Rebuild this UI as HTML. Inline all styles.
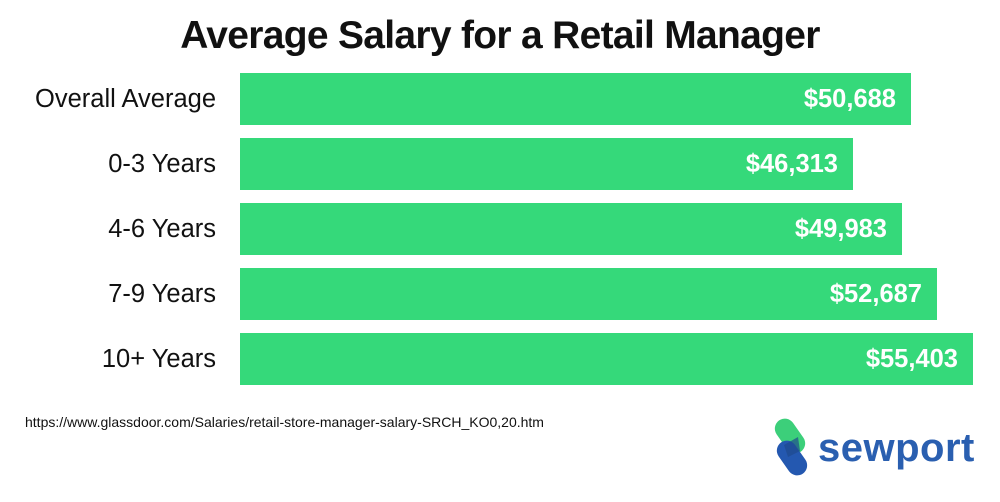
<!DOCTYPE html>
<html><head><style>
body{margin:0;width:1000px;height:502px;background:#fff;position:relative;overflow:hidden;font-family:"Liberation Sans",sans-serif}
.t{position:absolute;left:0;width:1000px;top:14px;text-align:center;font-size:39px;font-weight:bold;color:#111;letter-spacing:-0.7px}
.l{position:absolute;right:784px;font-size:25.5px;color:#111;line-height:52px}
.b{position:absolute;left:240px;height:52px;background:#35d97a}
.v{position:absolute;font-size:25.5px;font-weight:bold;color:#fff;line-height:52px;text-align:right}
.u{position:absolute;left:25px;top:414px;font-size:14px;color:#111}
.s{position:absolute;left:818px;top:426px;font-size:40px;font-weight:bold;color:#2a5fb0;letter-spacing:0.5px}
</style></head><body>
<div class="t">Average Salary for a Retail Manager</div>
<div class="l" style="top:73px">Overall Average</div>
<div class="l" style="top:138px">0-3 Years</div>
<div class="l" style="top:203px">4-6 Years</div>
<div class="l" style="top:268px">7-9 Years</div>
<div class="l" style="top:333px">10+ Years</div>
<div class="b" style="top:73px;width:671px"></div>
<div class="b" style="top:138px;width:613px"></div>
<div class="b" style="top:203px;width:662px"></div>
<div class="b" style="top:268px;width:697px"></div>
<div class="b" style="top:333px;width:733px"></div>
<div class="v" style="top:73px;right:104px">$50,688</div>
<div class="v" style="top:138px;right:162px">$46,313</div>
<div class="v" style="top:203px;right:113px">$49,983</div>
<div class="v" style="top:268px;right:78px">$52,687</div>
<div class="v" style="top:333px;right:42px">$55,403</div>
<div class="u">https://www.glassdoor.com/Salaries/retail-store-manager-salary-SRCH_KO0,20.htm</div>
<svg style="position:absolute;left:770px;top:415px" width="45" height="65">
<rect x="10" y="2" width="20" height="38" rx="10" transform="rotate(-35 20 21)" fill="#3ccf7a"/>
<rect x="12" y="24" width="20" height="38" rx="10" transform="rotate(-35 22 43)" fill="#2458b0"/>
<path d="M14 30 L28 22 L30 36 L18 42Z" fill="#1f4a8f" opacity=".7"/>
</svg>
<div class="s">sewport</div>
</body></html>
